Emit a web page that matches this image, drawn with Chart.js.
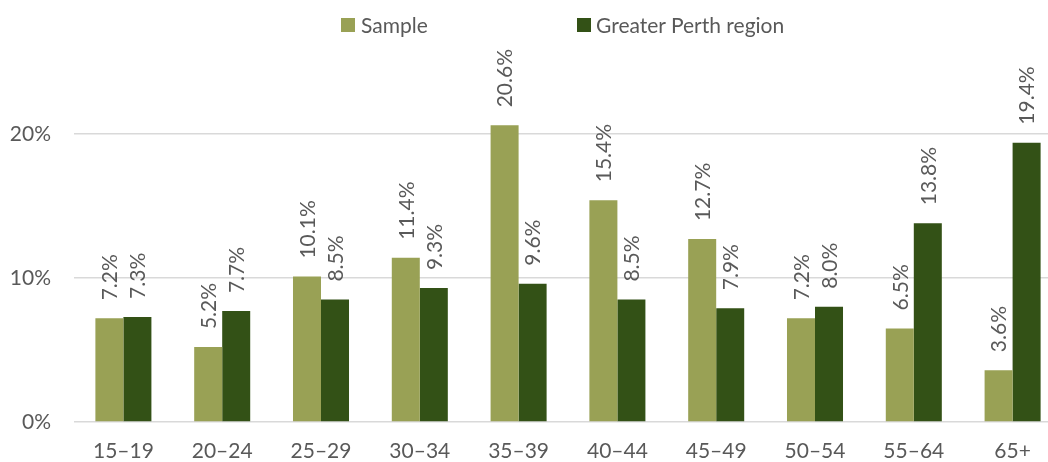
<!DOCTYPE html>
<html>
<head>
<meta charset="utf-8">
<script src="https://cdn.jsdelivr.net/npm/chart.js@4/dist/chart.umd.min.js"></script>
<style>
  html, body { margin: 0; padding: 0; background: #fff; overflow: hidden; }
  #wrap { position: relative; width: 1048px; height: 462px; overflow: hidden; }
  #c { position: absolute; left: 0; top: 0; }
  .lg { position: absolute; font-family: Lato, sans-serif; font-size: 21px; color: #595959; line-height: 1; }
  .bx { position: absolute; width: 14px; height: 14px; }
</style>
</head>
<body>
<div id="wrap">
  <canvas id="c" width="1062" height="462"></canvas>
  <div class="bx" style="left:341px; top:18px; background:#99A155"></div>
  <div class="lg" style="left:361px; top:14px;">Sample</div>
  <div class="bx" style="left:577px; top:18px; background:#335116"></div>
  <div class="lg" style="left:596px; top:14px;">Greater Perth region</div>
</div>
<script>
const categories = ['15–19', '20–24', '25–29', '30–34', '35–39', '40–44', '45–49', '50–54', '55–64', '65+'];
const sampleValues = [7.2, 5.2, 10.1, 11.4, 20.6, 15.4, 12.7, 7.2, 6.5, 3.6];
const perthValues = [7.3, 7.7, 8.5, 9.3, 9.6, 8.5, 7.9, 8.0, 13.8, 19.4];
const yTicks = [0, 10, 20];
const seriesNames = ['Sample', 'Greater Perth region'];

const TEXT = '#595959';
const FONT = 'Lato, sans-serif';

const barLabels = {
  id: 'barLabels',
  afterDatasetsDraw(chart) {
    const ctx = chart.ctx;
    ctx.save();
    ctx.font = '21px ' + FONT;
    ctx.fillStyle = TEXT;
    ctx.textAlign = 'left';
    ctx.textBaseline = 'middle';
    chart.data.datasets.forEach((ds, di) => {
      const meta = chart.getDatasetMeta(di);
      meta.data.forEach((bar, i) => {
        const v = ds.data[i];
        ctx.save();
        ctx.translate(bar.x + 1, bar.y - 18);
        ctx.rotate(-Math.PI / 2);
        ctx.fillText(v.toFixed(1) + '%', 0, 0);
        ctx.restore();
      });
    });
    ctx.restore();
  }
};

new Chart(document.getElementById('c'), {
  type: 'bar',
  data: {
    labels: categories,
    datasets: [
      { label: seriesNames[0], data: sampleValues, backgroundColor: '#99A155', borderWidth: 0 },
      { label: seriesNames[1], data: perthValues, backgroundColor: '#335116', borderWidth: 0 }
    ]
  },
  options: {
    responsive: false,
    animation: false,
    maintainAspectRatio: false,
    layout: { padding: { top: 62, right: 0, left: 0, bottom: 0 } },
    datasets: { bar: { categoryPercentage: 0.567, barPercentage: 1.0 } },
    plugins: { legend: { display: false }, tooltip: { enabled: false } },
    scales: {
      x: {
        grid: { display: false, drawTicks: false },
        border: { display: false },
        ticks: { color: TEXT, font: { family: FONT, size: 21 }, padding: 17, maxRotation: 0, autoSkip: false },
        afterFit(s) { s.height = 40; }
      },
      y: {
        min: 0, max: 25,
        grid: { color: '#D9D9D9', lineWidth: 1.5, drawTicks: false },
        border: { display: false },
        ticks: { color: TEXT, font: { family: FONT, size: 21 }, padding: 23, callback: v => v + '%' },
        afterBuildTicks(s) { s.ticks = yTicks.map(v => ({ value: v })); },
        afterFit(s) { s.width = 74; }
      }
    }
  },
  plugins: [barLabels]
});
</script>
</body>
</html>
